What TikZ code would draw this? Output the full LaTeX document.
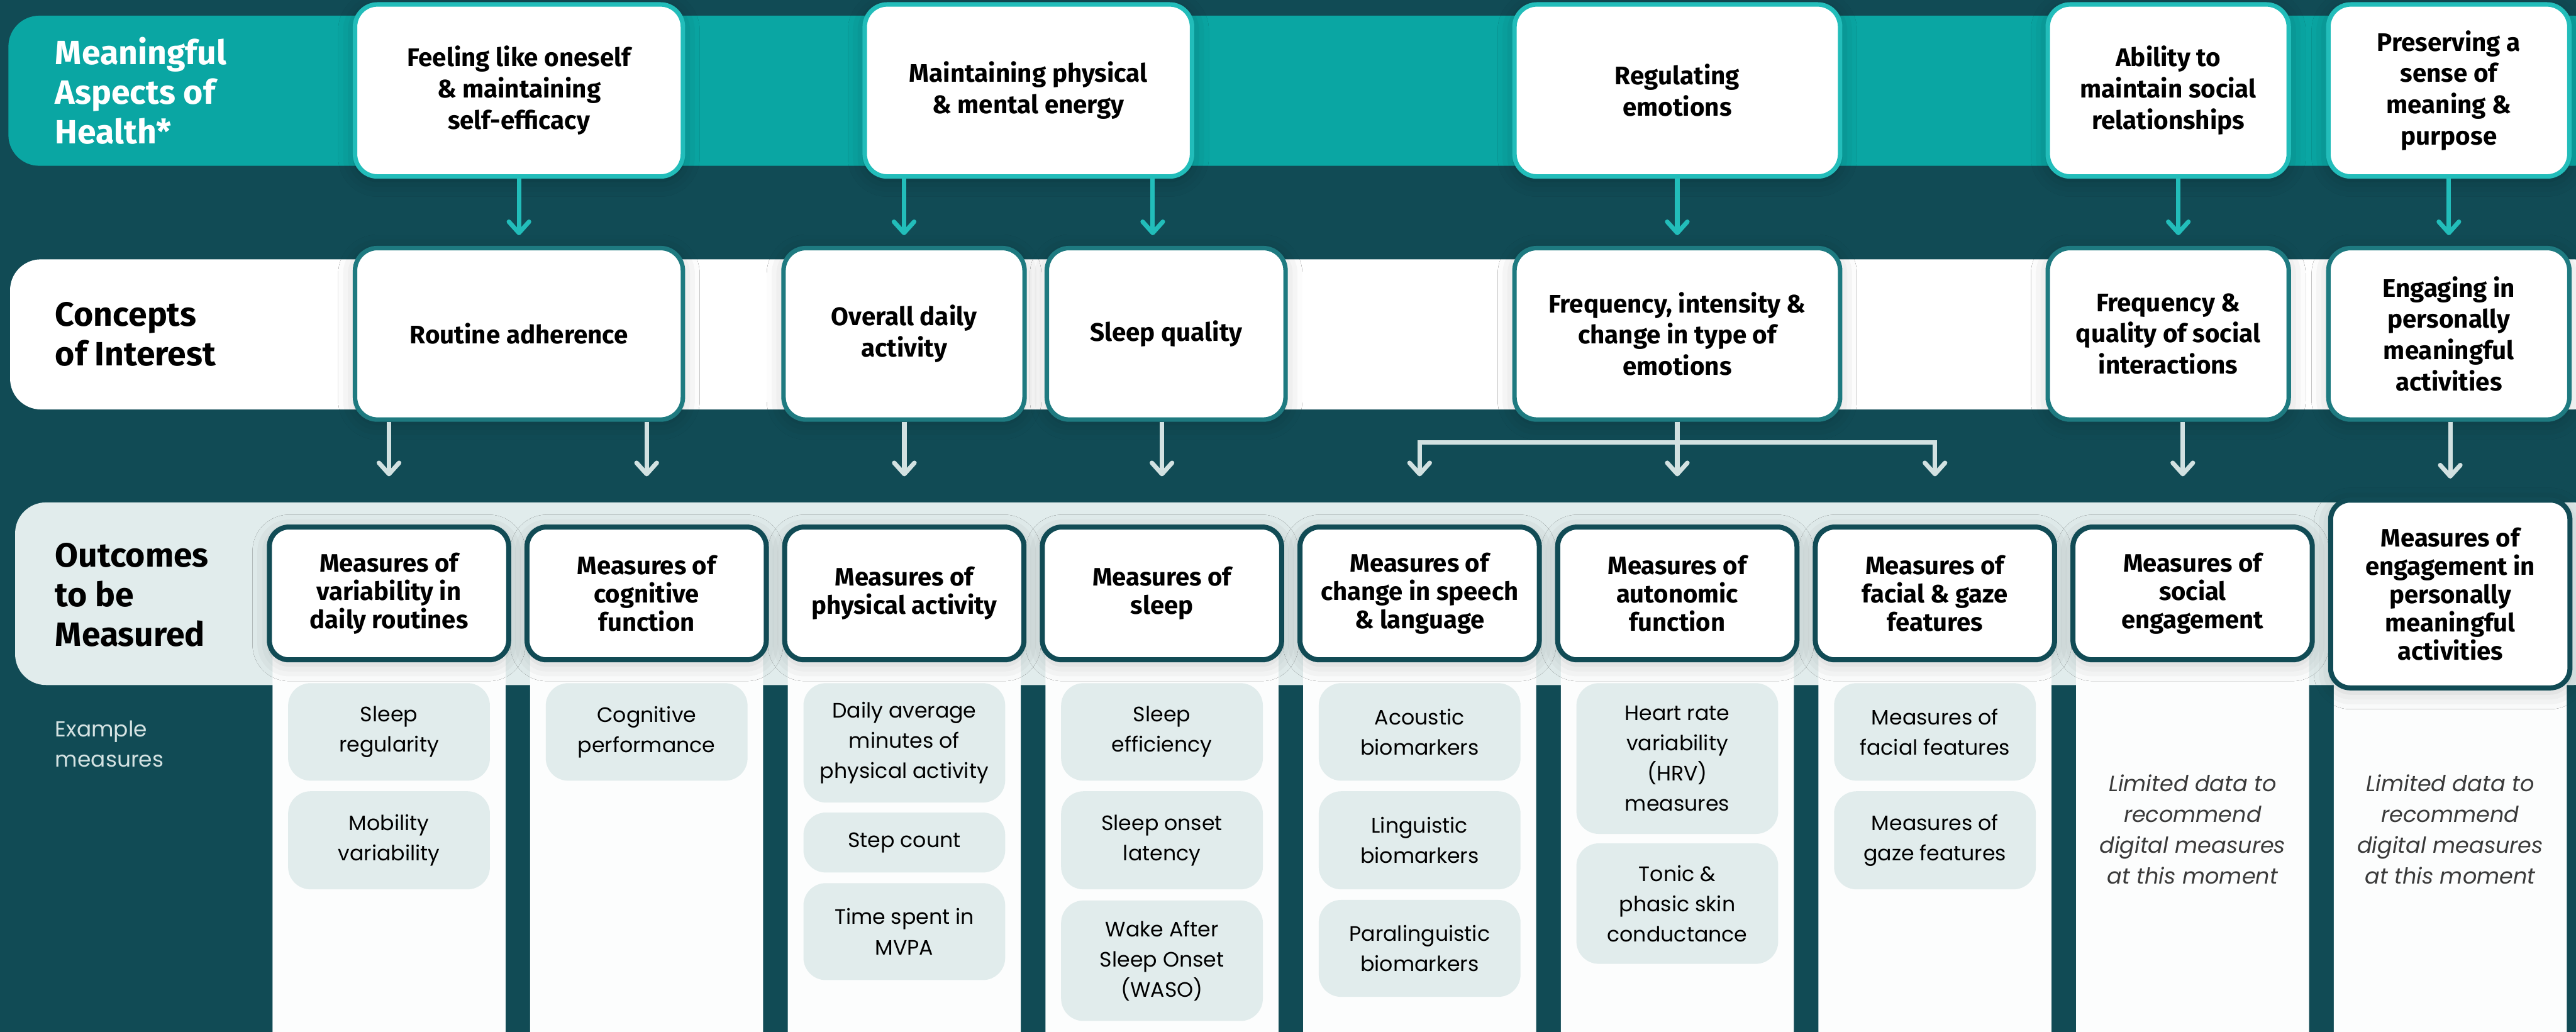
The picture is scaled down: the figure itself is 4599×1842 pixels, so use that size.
\documentclass[tikz,border=0pt]{standalone}
\usepackage{fontspec}
\setmainfont{Fira Sans}
\newfontfamily\bodyfont{Poppins}
\usetikzlibrary{arrows.meta,shadows.blur}

\definecolor{bgdark}{HTML}{114B55}
\definecolor{bandteal}{HTML}{0AA6A3}
\definecolor{topborder}{HTML}{22BDBA}
\definecolor{conborder}{HTML}{1E7A80}
\definecolor{outband}{HTML}{E1ECEC}
\definecolor{exfill}{HTML}{E1ECEC}
\definecolor{colfill}{HTML}{FCFDFD}
\definecolor{lowarrow}{HTML}{D2E1E1}
\definecolor{exlabel}{HTML}{D5E3E3}
\definecolor{limgrey}{HTML}{3A3A3A}

\tikzset{
  x=0.01cm, y=-0.01cm,
  headfont/.style={font=\fontsize{12.9}{15.9}\selectfont\bfseries},
  topbox/.style={draw=topborder, line width=0.08cm, fill=white, rounded corners=0.4cm,
    align=center, inner sep=0pt, headfont, minimum height=3.07cm,
    blur shadow={shadow xshift=0cm, shadow yshift=-0.06cm, shadow blur radius=0.3cm, shadow opacity=25}},
  conbox/.style={draw=conborder, line width=0.08cm, fill=white, rounded corners=0.4cm,
    align=center, inner sep=0pt, headfont, minimum height=3.06cm,
    blur shadow={shadow xshift=0cm, shadow yshift=-0.06cm, shadow blur radius=0.3cm, shadow opacity=20}},
  outbox/.style={draw=bgdark, line width=0.09cm, fill=white, rounded corners=0.35cm,
    align=center, inner sep=0pt, font=\fontsize{12.8}{14.4}\selectfont\bfseries,
    minimum width=4.27cm, minimum height=2.37cm,
    blur shadow={shadow xshift=0cm, shadow yshift=-0.08cm, shadow blur radius=0.3cm, shadow opacity=20}},
  exbox/.style={fill=exfill, rounded corners=0.4cm, align=center, inner sep=0pt,
    font=\bodyfont\fontsize{10.6}{15.4}\selectfont, minimum width=3.6cm, anchor=north},
  limtext/.style={align=center, text=limgrey, font=\bodyfont\itshape\fontsize{11.2}{15.6}\selectfont},
  rowlabel/.style={anchor=west, align=left, inner sep=0pt, font=\fontsize{17.1}{20.2}\selectfont\bfseries},
  colbg/.style={fill=colfill, rounded corners=0.4cm},
  toparr/.style={draw=topborder, line width=0.08cm,
    -{Straight Barb[length=0.2cm, width=0.36cm, line cap=round, line join=round]}, shorten >=0.19cm},
  lowline/.style={draw=lowarrow, line width=0.08cm},
  lowarr/.style={lowline, -{Straight Barb[length=0.2cm, width=0.36cm, line cap=round, line join=round]}, shorten >=0.86cm},
}

\begin{document}
\begin{tikzpicture}
\useasboundingbox (0,0) rectangle (4599,1842);
\clip (0,0) rectangle (4599,1842);
% background and bands
\fill[bgdark] (-10,-10) rectangle (4610,1860);
\fill[bandteal, rounded corners=0.55cm] (15,28) rectangle (4650,296);
\fill[white, rounded corners=0.55cm] (18,463) rectangle (4650,731);
\fill[outband, rounded corners=0.55cm] (27,897) rectangle (4650,1223);

% columns
\foreach \cx in {694.5,1154.5,1614.5,2074.5,2534.5,2994.5,3454.5,3914.5,4374.5}{
  \fill[colbg] (\cx-208,960) rectangle (\cx+208,1885);
}

% row labels
\node[rowlabel, text=white] (lab1) at (98,162) {Meaningful\\Aspects of\\Health*};
\node[rowlabel] (lab2) at (98,597) {Concepts\\of Interest};
\node[rowlabel] (lab3) at (98,1062) {Outcomes\\to be\\Measured};
\node[anchor=west, align=left, inner sep=0pt, text=exlabel, font=\bodyfont\fontsize{11}{15.4}\selectfont] (lab4) at (98,1328) {Example\\measures};

% top boxes
\node[topbox, minimum width=5.85cm] (T1) at (926.5,161.5) {Feeling like oneself\\\& maintaining\\self-efficacy};
\node[topbox, minimum width=5.84cm] (T2) at (1836,161.5) {Maintaining physical\\\& mental energy};
\node[topbox, minimum width=5.81cm] (T3) at (2994.5,161.5) {Regulating\\emotions};
\node[topbox, minimum width=4.30cm] (T4) at (3871,161.5) {Ability to\\maintain social\\relationships};
\node[topbox, minimum width=4.30cm] (T5) at (4372,161.5) {Preserving a\\sense of\\meaning \&\\purpose};

% concept boxes
\node[conbox, minimum width=5.85cm] (C1) at (926.5,596) {Routine adherence};
\node[conbox, minimum width=4.30cm] (C2) at (1614,596) {Overall daily\\activity};
\node[conbox, minimum width=4.26cm] (C3) at (2082,596) {Sleep quality};
\node[conbox, minimum width=5.81cm] (C4) at (2994.5,596) {Frequency, intensity \&\\change in type of\\emotions};
\node[conbox, minimum width=4.30cm] (C5) at (3871,596) {Frequency \&\\quality of social\\interactions};
\node[conbox, minimum width=4.30cm] (C6) at (4372,596) {Engaging in\\personally\\meaningful\\activities};

% outcome boxes
\node[outbox] (O1) at (694.5,1059.5) {Measures of\\variability in\\daily routines};
\node[outbox] (O2) at (1154.5,1059.5) {Measures of\\cognitive\\function};
\node[outbox] (O3) at (1614.5,1059.5) {Measures of\\physical activity};
\node[outbox] (O4) at (2074.5,1059.5) {Measures of\\sleep};
\node[outbox] (O5) at (2534.5,1059.5) {Measures of\\change in speech\\\& language};
\node[outbox] (O6) at (2994.5,1059.5) {Measures of\\autonomic\\function};
\node[outbox] (O7) at (3454.5,1059.5) {Measures of\\facial \& gaze\\features};
\node[outbox] (O8) at (3914.5,1059.5) {Measures of\\social\\engagement};
\node[outbox, minimum height=3.35cm] (O9) at (4374.5,1060.5) {Measures of\\engagement in\\personally\\meaningful\\activities};

% example measures
\node[exbox, minimum height=1.74cm] (E11) at (694.5,1219) {Sleep\\regularity};
\node[exbox, minimum height=1.75cm] (E12) at (694.5,1412) {Mobility\\variability};
\node[exbox, minimum height=1.74cm] (E21) at (1154.5,1219) {Cognitive\\performance};
\node[exbox, minimum height=2.13cm] (E31) at (1614.5,1219) {Daily average\\minutes of\\physical activity};
\node[exbox, minimum height=1.07cm] (E32) at (1614.5,1450) {Step count};
\node[exbox, minimum height=1.73cm] (E33) at (1614.5,1576) {Time spent in\\MVPA};
\node[exbox, minimum height=1.74cm] (E41) at (2074.5,1219) {Sleep\\efficiency};
\node[exbox, minimum height=1.75cm] (E42) at (2074.5,1412) {Sleep onset\\latency};
\node[exbox, minimum height=2.15cm] (E43) at (2074.5,1607) {Wake After\\Sleep Onset\\(WASO)};
\node[exbox, minimum height=1.74cm] (E51) at (2534.5,1219) {Acoustic\\biomarkers};
\node[exbox, minimum height=1.75cm] (E52) at (2534.5,1412) {Linguistic\\biomarkers};
\node[exbox, minimum height=1.73cm] (E53) at (2534.5,1606) {Paralinguistic\\biomarkers};
\node[exbox, minimum height=2.69cm] (E61) at (2994.5,1219) {Heart rate\\variability\\(HRV)\\measures};
\node[exbox, minimum height=2.15cm] (E62) at (2994.5,1505) {Tonic \&\\phasic skin\\conductance};
\node[exbox, minimum height=1.74cm] (E71) at (3454.5,1219) {Measures of\\facial features};
\node[exbox, minimum height=1.75cm] (E72) at (3454.5,1412) {Measures of\\gaze features};
\node[limtext] (L8) at (3914.5,1481) {Limited data to\\recommend\\digital measures\\at this moment};
\node[limtext] (L9) at (4374.5,1481) {Limited data to\\recommend\\digital measures\\at this moment};

% helper columns for off-centre arrows
\coordinate (a2) at (2058,0);
\coordinate (a4) at (3889,0);
\coordinate (b8) at (3897,0);
\coordinate (br) at (2994.5,790);

% top arrows
\draw[toparr] (T1) -- (C1);
\draw[toparr] (T2.south -| C2.north) -- (C2.north);
\draw[toparr] (T2.south -| a2) -- (C3.north -| a2);
\draw[toparr] (T3) -- (C4);
\draw[toparr] (T4.south -| a4) -- (C5.north -| a4);
\draw[toparr] (T5) -- (C6);

% lower arrows
\draw[lowarr] (C1.south -| O1.north) -- (O1.north);
\draw[lowarr] (C1.south -| O2.north) -- (O2.north);
\draw[lowarr] (C2.south -| O3.north) -- (O3.north);
\draw[lowarr] (C3.south -| O4.north) -- (O4.north);
\draw[lowarr] (C4.south) -- (O6.north);
\draw[lowarr] (C4.south) -- (br) -| (O5.north);
\draw[lowarr] (br) -| (O7.north);
\draw[lowarr] (C5.south -| b8) -- (O8.north -| b8);
\draw[lowarr, shorten >=0.34cm] (C6.south -| O9.north) -- (O9.north);
\end{tikzpicture}
\end{document}
